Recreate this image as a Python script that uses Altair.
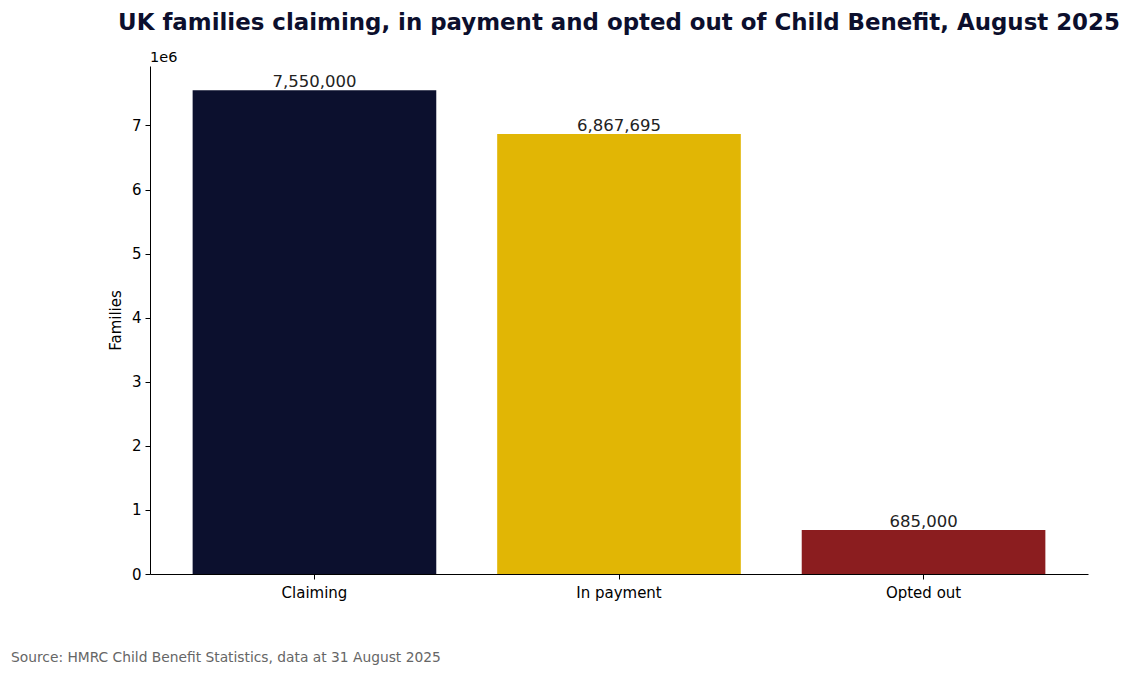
import altair as alt
import pandas as pd

# values
status = ["Claiming", "In payment", "Opted out"]
families = [7550000, 6867695, 685000]
bar_colours = ["#0c102e", "#e1b605", "#8b1d1f"]
labels = ["7,550,000", "6,867,695", "685,000"]

source_note = "Source: HMRC Child Benefit Statistics, data at 31 August 2025"
chart_title = "UK families claiming, in payment and opted out of Child Benefit, August 2025"

font = "DejaVu Sans"
plot_w = 938
plot_h = 508

data = pd.DataFrame({"status": status, "families": families, "label": labels})

x_enc = alt.X(
    "status:N",
    sort=status,
    title=None,
    scale=alt.Scale(paddingInner=0.2, paddingOuter=0.14),
    axis=alt.Axis(
        labelAngle=0, labelFont=font, labelFontSize=15, labelColor="black",
        labelPadding=6, tickSize=5, tickColor="black", domainColor="black",
        grid=False,
    ),
)
y_enc = alt.Y(
    "families:Q",
    title="Families",
    scale=alt.Scale(domain=[0, 7927500], nice=False),
    axis=alt.Axis(
        values=[0, 1e6, 2e6, 3e6, 4e6, 5e6, 6e6, 7e6],
        labelExpr="format(datum.value / 1e6, 'd')",
        labelFont=font, labelFontSize=15, labelColor="black", labelPadding=4,
        tickSize=5, tickColor="black", domainColor="black", grid=False,
        titleFont=font, titleFontSize=15, titleFontWeight="normal",
        titleColor="black", titlePadding=8,
    ),
)

bars = alt.Chart(data).mark_bar().encode(
    x=x_enc,
    y=y_enc,
    color=alt.Color("status:N", scale=alt.Scale(domain=status, range=bar_colours), legend=None),
)

bar_text = alt.Chart(data).mark_text(
    font=font, fontSize=16.5, color="#222222", baseline="alphabetic", dy=-3
).encode(x=alt.X("status:N", sort=status), y="families:Q", text="label:N")

# matplotlib style offset text above the y axis
offset_text = alt.Chart(pd.DataFrame({"t": ["1e6"]})).mark_text(
    font=font, fontSize=14.5, color="black", align="left", baseline="alphabetic"
).encode(x=alt.value(0), y=alt.value(-4), text="t:N")

note = alt.Chart(pd.DataFrame({"t": [source_note]})).mark_text(
    font=font, fontSize=13.8, color="#666666", align="left", baseline="alphabetic"
).encode(x=alt.value(-139), y=alt.value(596), text="t:N")

chart = (bars + bar_text + offset_text + note).properties(
    width=plot_w,
    height=plot_h,
    autosize=alt.AutoSizeParams(type="none"),
    padding={"left": 142, "top": 58, "right": 34, "bottom": 92},
    title=alt.TitleParams(
        chart_title, font=font, fontSize=22.9, fontWeight="bold",
        color="#0c0f2d", anchor="middle", offset=15,
    ),
).configure_view(strokeWidth=0)

chart.save("out.html", embed_options={"renderer": "svg", "actions": False})
